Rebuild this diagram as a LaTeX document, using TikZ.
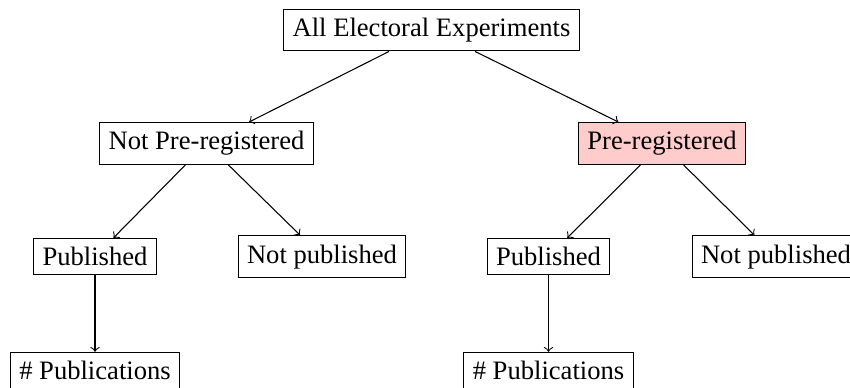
\documentclass[tikz,border=0pt]{standalone}
\usepackage{fontspec}
\setmainfont{Liberation Serif}
\begin{document}
\begin{tikzpicture}[x=0.37594pt,y=-0.37594pt,
  box/.style={draw,line width=0.4pt,font=\fontsize{10}{12}\selectfont},
  hi/.style={box,fill=red!20},
  edge/.style={->,line width=0.4pt}]
\useasboundingbox (0,0) rectangle (850,387);
\node[box] (all) at (431.5,30) {All Electoral Experiments};
\node[box] (npr) at (206.5,143.5) {Not Pre-registered};
\node[hi]  (pr)  at (662,143.5) {Pre-registered};
\node[box] (pubL) at (95,256.6) {Published};
\node[box] (npubL) at (322,256.6) {Not published};
\node[box] (pubR) at (548.5,256.6) {Published};
\node[box] (npubR) at (776,256.6) {Not published};
\node[box] (nL) at (95,370.5) {\# Publications};
\node[box] (nR) at (548.5,370.5) {\# Publications};
\draw[edge] (all) -- (npr);
\draw[edge] (all) -- (pr);
\draw[edge] (npr) -- (pubL);
\draw[edge] (npr) -- (npubL);
\draw[edge] (pr) -- (pubR);
\draw[edge] (pr) -- (npubR);
\draw[edge] (pubL) -- (nL);
\draw[edge] (pubR) -- (nR);
\end{tikzpicture}
\end{document}
